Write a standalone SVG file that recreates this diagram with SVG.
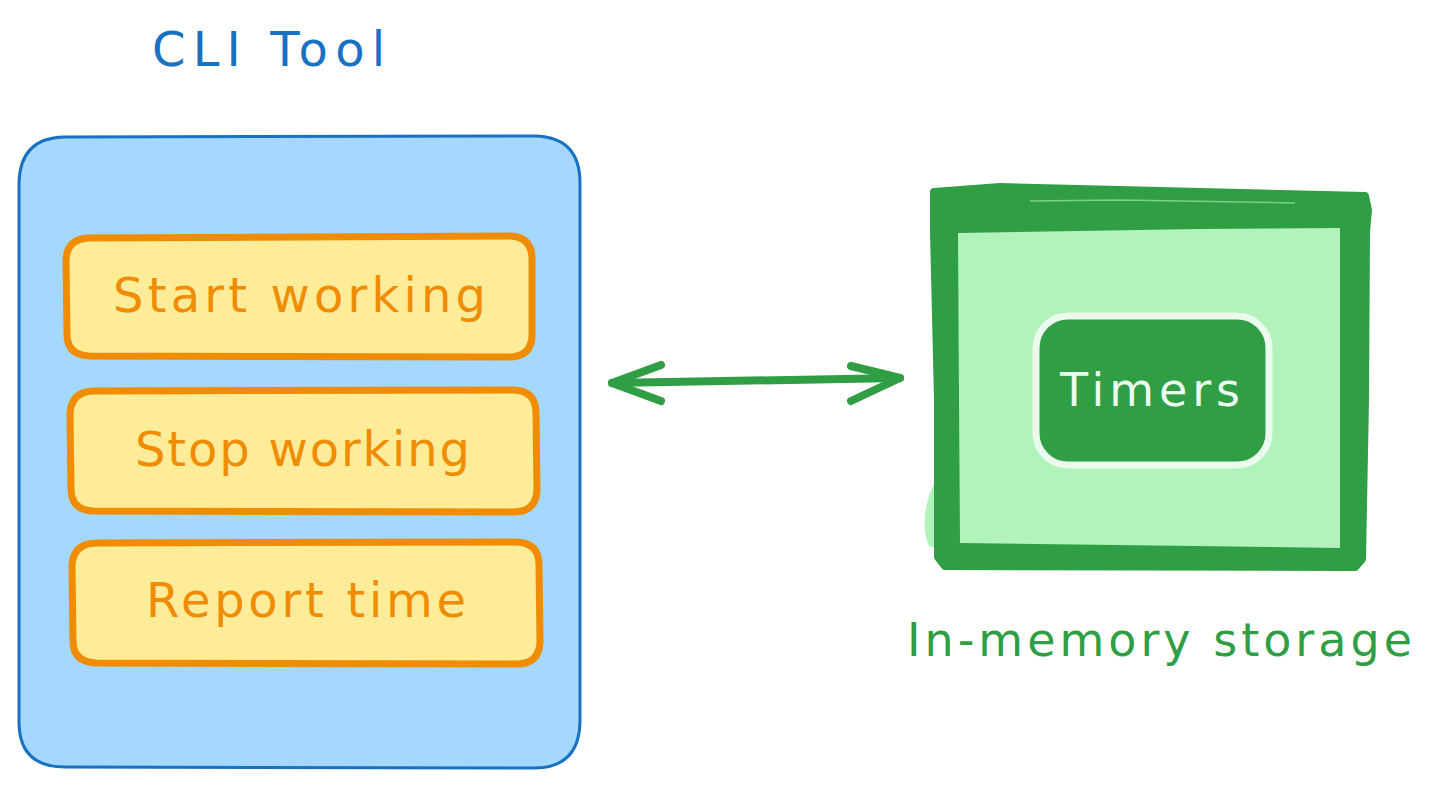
<svg xmlns="http://www.w3.org/2000/svg" width="1431" height="787" viewBox="0 0 1431 787">
  <style>
    .hand { font-family: "DejaVu Sans", "Liberation Sans", sans-serif; }
    .blue-title { fill: #1971c2; font-size: 48px; }
    .green-title { fill: #2f9e44; font-size: 46px; }
    .item-box { fill: #ffec99; stroke: #f08c00; stroke-width: 7; stroke-linejoin: round; }
    .item-text { fill: #f08c00; font-size: 48px; }
    .conn { stroke: #2f9e44; stroke-width: 8; stroke-linecap: round; stroke-linejoin: round; fill: none; }
  </style>
  <rect width="1431" height="787" fill="#ffffff"/>

  <g id="cli-title">
    <text class="hand blue-title" x="152" y="66" textLength="233" lengthAdjust="spacing">CLI Tool</text>
  </g>

  <g id="cli-tool">
    <path d="M64,137 L535,136 Q580,137 580,183 L580,722 Q579,768 534,768 L65,767 Q19,767 19,722 L19,183 Q20,138 64,137 Z" fill="#a5d8ff" stroke="#1971c2" stroke-width="3"/>
  </g>

  <g id="start-working">
    <path class="item-box" d="M88,238 L510,236 Q532,237 532,259 L532,336 Q531,357 509,357 L89,356 Q67,355 67,334 L66,260 Q67,239 88,238 Z"/>
    <text class="hand item-text" x="113" y="312" textLength="373" lengthAdjust="spacing">Start working</text>
  </g>

  <g id="stop-working">
    <path class="item-box" d="M93,391 L514,390 Q536,391 536,413 L537,490 Q536,512 514,512 L93,511 Q71,510 71,489 L70,414 Q71,392 93,391 Z"/>
    <text class="hand item-text" x="135" y="466" textLength="335" lengthAdjust="spacing">Stop working</text>
  </g>

  <g id="report-time">
    <path class="item-box" d="M95,543 L517,542 Q539,543 539,565 L540,642 Q539,664 517,664 L96,663 Q73,662 73,641 L72,566 Q73,544 95,543 Z"/>
    <text class="hand item-text" x="146" y="617" textLength="320" lengthAdjust="spacing">Report time</text>
  </g>

  <g id="connectors">
    <path class="conn" d="M612,383 L900,378"/>
    <path class="conn" d="M661,365 L612,383 L661,401"/>
    <path class="conn" d="M851,366 L900,378 L851,401"/>
  </g>

  <g id="in-memory-storage">
    <path d="M937,478 C924,500 921,530 929,546 L942,550 L942,478 Z" fill="#b2f2bb"/>
    <path d="M934,192 L1000,187 L1365,196 L1368,210 L1366,232 L1365,400 L1362,559 L1355,567 L945,566 L938,557 L938,400 L934,232 Z" fill="#2f9e44" stroke="#2f9e44" stroke-width="8" stroke-linejoin="round"/>
    <path d="M958,233 L1200,229 L1340,228 L1340,400 L1340,548 L960,543 L959,400 Z" fill="#b2f2bb"/>
    <path d="M1030,201 L1120,200 L1295,203" stroke="#b2f2bb" stroke-width="1.5" fill="none" opacity="0.6"/>
  </g>

  <g id="timers">
    <rect x="1036" y="316" width="233" height="149" rx="32" fill="#2f9e44" stroke="#ebfbee" stroke-width="7"/>
    <text class="hand" x="1060" y="406" font-size="46" fill="#ebfbee" textLength="180" lengthAdjust="spacing">Timers</text>
  </g>

  <g id="storage-label">
    <text class="hand green-title" x="907" y="656" textLength="505" lengthAdjust="spacing">In-memory storage</text>
  </g>
</svg>
